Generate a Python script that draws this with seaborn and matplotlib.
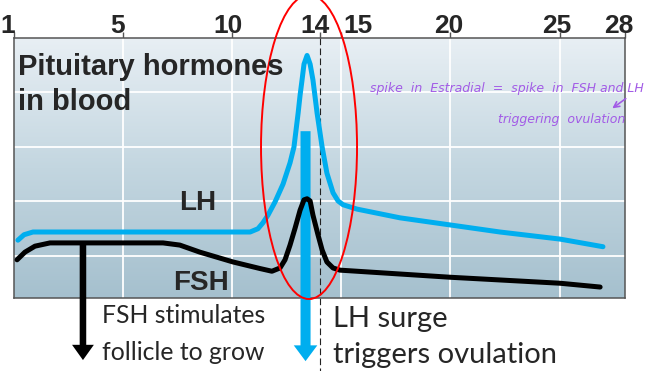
import numpy as np
import pandas as pd
import seaborn as sns
import matplotlib.pyplot as plt
import matplotlib.transforms as mtransforms
from matplotlib.patches import Ellipse
from matplotlib.colors import LinearSegmentedColormap

# cycle day (0 = start of axis, labelled "1") and relative hormone level
lh_day = [0.18, 0.46, 0.87, 10.82, 11.18, 11.41, 11.64, 11.96, 12.33, 12.65, 12.83, 13.02,
          13.11, 13.20, 13.29, 13.43, 13.57, 13.70, 13.89, 14.12, 14.34, 14.62, 14.85,
          15.08, 15.72, 17.69, 19.98, 22.27, 25.02, 26.99]
lh_level = [0.29, 0.39, 0.44, 0.44, 0.50, 0.61, 0.75, 0.99, 1.32, 1.71, 2.00, 2.62,
            2.95, 3.23, 3.52, 3.68, 3.52, 3.23, 2.62, 2.00, 1.52, 1.16, 1.01,
            0.94, 0.86, 0.70, 0.57, 0.44, 0.31, 0.17]

fsh_day = [0.14, 0.50, 0.96, 1.65, 6.83, 7.60, 8.52, 10.04, 11.27, 11.82, 12.19, 12.42,
           12.65, 12.88, 13.11, 13.29, 13.43, 13.57, 13.70, 13.93, 14.12, 14.34, 14.62,
           14.94, 15.72, 19.98, 25.02, 26.86]
fsh_level = [-0.07, 0.07, 0.18, 0.24, 0.24, 0.20, 0.07, -0.11, -0.23, -0.28, -0.22, -0.07,
             0.20, 0.51, 0.84, 1.03, 1.05, 1.01, 0.75, 0.39, 0.11, -0.11, -0.22,
             -0.26, -0.28, -0.39, -0.50, -0.57]

tick_pos = [0, 5, 10, 14, 15, 20, 25, 28]
tick_labels = ["1", "5", "10", "14", "15", "20", "25", "28"]
label_shift_px = [-6, -6, -4, -5, 17, -2, -3, -6]

lh_df = pd.DataFrame({"day": lh_day, "level": lh_level})
fsh_df = pd.DataFrame({"day": fsh_day, "level": fsh_level})

sns.set_style("white")
plt.rcParams['font.family'] = ['Liberation Sans', 'DejaVu Sans']

W, H = 662, 371
blue = "#00AEEF"
purple = "#A25BE6"
edge = "#555555"

fig = plt.figure(figsize=(W / 100, H / 100), dpi=100)
ax = fig.add_axes([14 / W, 1 - 298 / H, (625 - 14) / W, (298 - 38) / H])

ymin, ymax = -0.771, 4.0
cmap = LinearSegmentedColormap.from_list("bg", ["#E8EFF4", "#C3D6E0", "#A5C0CE"])
ax.imshow(np.linspace(0, 1, 256).reshape(-1, 1), cmap=cmap, aspect="auto",
          extent=[0, 28, ymin, ymax], origin="upper", zorder=0)

for x in [5, 10, 15, 20, 25]:
    ax.axvline(x, color="white", lw=1.3, zorder=1)
for y in [0, 1, 2, 3]:
    ax.axhline(y, color="white", lw=1.3, zorder=1)

# dashed ovulation marker
ax.plot([14, 14], [ymax, -2.2], color="#222222", lw=0.8, dashes=(6, 3),
        clip_on=False, zorder=2)

# arrows
ax.arrow(13.36, 2.29, 0, -4.22, width=0.46, head_width=1.08, head_length=0.29,
         length_includes_head=True, color=blue, lw=0, clip_on=False, zorder=3)
ax.arrow(3.16, 0.24, 0, -2.15, width=0.30, head_width=1.0, head_length=0.28,
         length_includes_head=True, color="black", lw=0, clip_on=False, zorder=5)

sns.lineplot(data=lh_df, x="day", y="level", ax=ax, color=blue, lw=3.6,
             sort=False, estimator=None, zorder=4)
sns.lineplot(data=fsh_df, x="day", y="level", ax=ax, color="black", lw=3.6,
             sort=False, estimator=None, zorder=5)

ax.add_patch(Ellipse((13.52, 2.0), 4.40, 5.58, fill=False, edgecolor="#FF0000",
                     lw=1.4, clip_on=False, zorder=6))

ax.set_xlim(0, 28)
ax.set_ylim(ymin, ymax)
ax.set_xlabel("")
ax.set_ylabel("")
ax.set_yticks([])
ax.xaxis.tick_top()
ax.set_xticks(tick_pos, tick_labels)
ax.tick_params(axis="x", top=True, bottom=False, direction="out", length=4.3,
               width=1, color=edge, pad=-4, labelsize=19)
for lab, dx in zip(ax.get_xticklabels(), label_shift_px):
    lab.set_fontweight("bold")
    lab.set_transform(lab.get_transform() +
                      mtransforms.ScaledTranslation(dx / 100, 0, fig.dpi_scale_trans))
for s in ax.spines.values():
    s.set_color(edge)
    s.set_linewidth(1.1)


def fxy(px, py):
    return px / W, 1 - py / H


bold = dict(fontsize=21, fontweight="bold", va="baseline")
fig.text(*fxy(18, 75), "Pituitary hormones", **bold)
fig.text(*fxy(18, 110), "in blood", **bold)
fig.text(*fxy(198, 210), "LH", ha="center", va="baseline", fontsize=20, fontweight="bold")
fig.text(*fxy(201, 290), "FSH", ha="center", va="baseline", fontsize=20, fontweight="bold")

reg = dict(fontsize=17.8, va="baseline", family=["Lato", "DejaVu Sans"])
fig.text(*fxy(102, 323), "FSH stimulates", **reg)
fig.text(*fxy(102, 360), "follicle to grow", **reg)
reg["fontsize"] = 21
fig.text(*fxy(333, 327), "LH surge", **reg)
fig.text(*fxy(333, 363), "triggers ovulation", **reg)

note = dict(fontsize=9, style="italic", color=purple, va="baseline",
            family=["DejaVu Sans"])
fig.text(*fxy(370, 92), "spike  in  Estradial  =  spike  in  FSH and LH", **note)
fig.text(*fxy(498, 123), "triggering  ovulation", **note)
ax.annotate("", xy=(610, H - 110), xytext=(628, H - 97), xycoords="figure pixels",
            textcoords="figure pixels", annotation_clip=False,
            arrowprops=dict(arrowstyle="->", color=purple, lw=1.2))

fig.savefig("out.png", dpi=100)
